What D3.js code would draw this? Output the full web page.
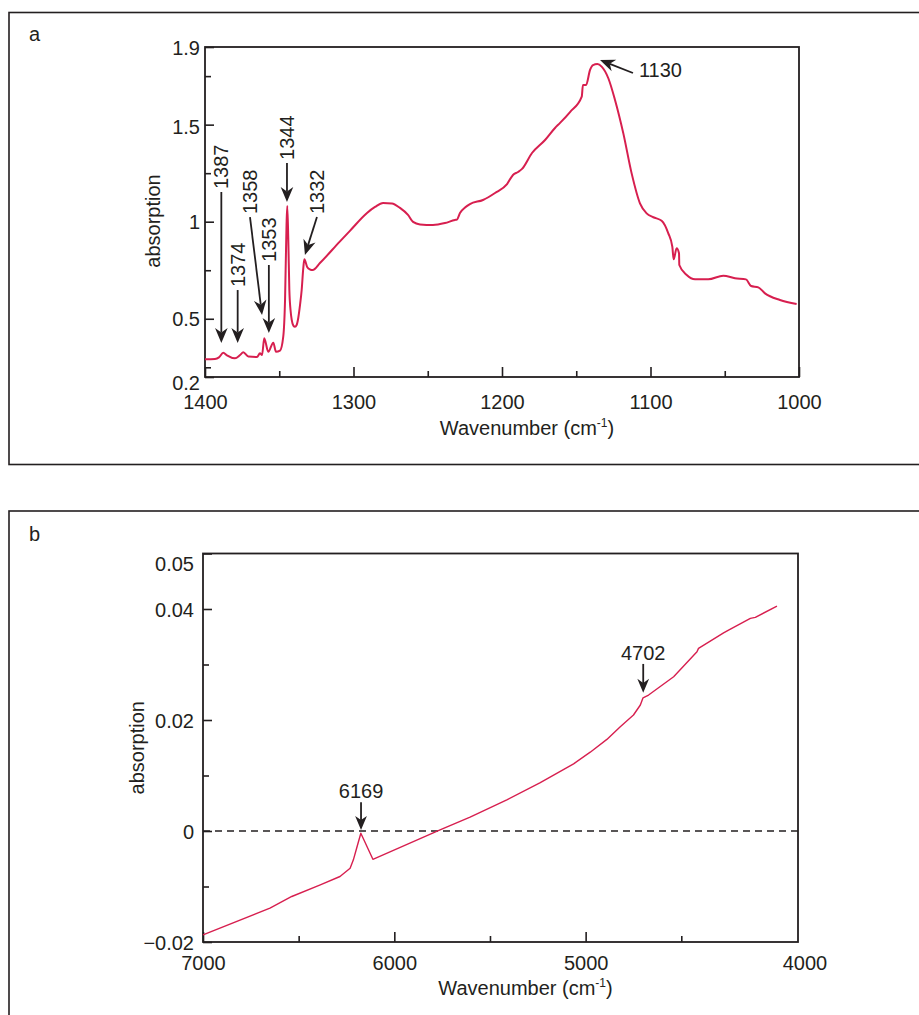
<!DOCTYPE html>
<html>
<head>
<meta charset="utf-8">
<script src="https://cdn.jsdelivr.net/npm/d3@7"></script>
<style>
  body { margin: 0; background: #fff; }
  svg text { font-family: "Liberation Sans", Arial, sans-serif; fill: #231f20; }
</style>
</head>
<body>
<svg id="chart" width="919" height="1015"></svg>
<script>
// ---- panel a: mid-IR spectrum ----
const wavenumberA = [1400, 1393.3, 1390.6, 1387.7, 1385.2, 1379.8, 1376.4, 1374.2, 1370.8, 1365.0,
  1363.0, 1361.6, 1360.1, 1357.4, 1354.0, 1352.2, 1349.5, 1347.3, 1346.1, 1345.1,
  1344.6, 1343.9, 1343.2, 1342.4, 1341.6, 1340.5, 1339.4, 1338.3, 1337.2, 1336.0,
  1334.9, 1333.8, 1333.1, 1331.1, 1329.3, 1327.5, 1322.6, 1309.1, 1302.4, 1290.9,
  1285.5, 1280.1, 1274.1, 1268.7, 1263.3, 1259.9, 1255.2, 1246.5, 1238.4, 1231.7,
  1230.3, 1228.3, 1224.9, 1221.6, 1212.8, 1204.7, 1196.6, 1192.6, 1189.2, 1186.5,
  1179.8, 1171.0, 1164.3, 1160.9, 1154.2, 1146.3, 1145.5, 1143.4, 1140.7, 1138.7,
  1135.8, 1132.9, 1128.4, 1123.9, 1118.3, 1112.7, 1107.1, 1102.6, 1098.1, 1092.5,
  1088.0, 1085.3, 1084.4, 1082.4, 1080.8, 1080.6, 1075.6, 1070.0, 1061.1, 1051.0,
  1043.1, 1035.7, 1032.3, 1027.4, 1022.9, 1012.8, 1001.6];
const absorptionA = [0.291, 0.293, 0.301, 0.325, 0.311, 0.296, 0.313, 0.327, 0.305, 0.303,
  0.322, 0.313, 0.399, 0.330, 0.377, 0.330, 0.336, 0.408, 0.597, 0.983,
  1.081, 0.906, 0.648, 0.545, 0.494, 0.465, 0.459, 0.468, 0.504, 0.571,
  0.648, 0.762, 0.806, 0.765, 0.754, 0.751, 0.787, 0.899, 0.953, 1.045,
  1.076, 1.096, 1.094, 1.071, 1.035, 0.999, 0.986, 0.983, 0.993, 1.009,
  1.011, 1.045, 1.073, 1.091, 1.112, 1.148, 1.194, 1.241, 1.256, 1.272,
  1.354, 1.421, 1.483, 1.509, 1.565, 1.644, 1.704, 1.704, 1.782, 1.807,
  1.812, 1.799, 1.739, 1.627, 1.455, 1.249, 1.095, 1.043, 1.023, 1.005,
  0.940, 0.871, 0.806, 0.863, 0.837, 0.777, 0.725, 0.703, 0.703, 0.722,
  0.709, 0.703, 0.669, 0.662, 0.631, 0.597, 0.576];
const xTicksA = [1400, 1300, 1200, 1100, 1000];
const xMinorA = [1350, 1250, 1150, 1050];
const yTicksA = [0.2, 0.5, 1, 1.5, 1.9];
const yMinorA = [0.25, 0.75, 1.25, 1.75];
// peak arrows: tail = where the label sits, tip = on the curve
const peaksA = [
  { label: "1387", tailWn: 1389, tailAbs: 1.153, tipWn: 1389, tipAbs: 0.375 },
  { label: "1374", tailWn: 1378, tailAbs: 0.648, tipWn: 1378, tipAbs: 0.375 },
  { label: "1358", tailWn: 1369.7, tailAbs: 1.024, tipWn: 1361.6, tipAbs: 0.519 },
  { label: "1353", tailWn: 1357, tailAbs: 0.777, tipWn: 1357, tipAbs: 0.427 },
  { label: "1344", tailWn: 1344.8, tailAbs: 1.303, tipWn: 1344.8, tipAbs: 1.102 },
  { label: "1332", tailWn: 1324.6, tailAbs: 1.024, tipWn: 1332.7, tipAbs: 0.829 },
  { label: "1130", tailWn: 1111.8, tailAbs: 1.766, tipWn: 1134, tipAbs: 1.833, flat: true }
];

// ---- panel b: near-IR spectrum ----
const wavenumberB = [7000, 6650, 6536, 6387, 6284, 6231, 6214, 6197, 6175, 6112,
  5761, 5604, 5412, 5237, 5063, 4976, 4889, 4819, 4750, 4714,
  4700, 4671, 4540, 4418, 4410, 4279, 4253, 4139, 4113, 4000];
const absorptionB = [-0.0187, -0.0139, -0.0118, -0.0097, -0.0082, -0.0067, -0.0052, -0.0031, -0.0004, -0.0051,
  0.0002, 0.0025, 0.0056, 0.0087, 0.0121, 0.0142, 0.0165, 0.0188, 0.0209, 0.0227,
  0.0240, 0.0245, 0.0278, 0.0323, 0.0329, 0.0357, 0.0362, 0.0383, 0.0385, 0.0405];
const xTicksB = [7000, 6000, 5000];
const xEndLabelB = "4000"; // printed at the right-hand end of the axis in the original
const xMinorB = [6500, 5500, 4500];
const yTicksB = [-0.02, 0, 0.02, 0.04, 0.05];
const yMinorB = [-0.01, 0.01, 0.03];
const peaksB = [
  { label: "6169", tailWn: 6174, tailAbs: 0.0052, tipWn: 6174, tipAbs: 0.0002 },
  { label: "4702", tailWn: 4699, tailAbs: 0.0301, tipWn: 4699, tipAbs: 0.0249 }
];

const INK = "#231f20";
const RED = "#d71f4f";
const svg = d3.select("#chart");

// outer frames (right/bottom run off the page like the original)
svg.append("rect").attr("x", 9).attr("y", 12.5).attr("width", 930).attr("height", 452)
  .attr("fill", "none").attr("stroke", INK).attr("stroke-width", 1.6);
svg.append("rect").attr("x", 9).attr("y", 511).attr("width", 930).attr("height", 520)
  .attr("fill", "none").attr("stroke", INK).attr("stroke-width", 1.6);
svg.append("text").attr("x", 29).attr("y", 41).attr("font-size", 20).text("a");
svg.append("text").attr("x", 29).attr("y", 541).attr("font-size", 20).text("b");

function arrow(g, x1, y1, x2, y2, head) {
  const ang = Math.atan2(y2 - y1, x2 - x1);
  const back = head * 0.7;
  g.append("line")
    .attr("x1", x1).attr("y1", y1)
    .attr("x2", x2 - back * Math.cos(ang)).attr("y2", y2 - back * Math.sin(ang))
    .attr("stroke", INK).attr("stroke-width", 1.8);
  g.append("path")
    .attr("d", `M0,0L${-head},${-head * 0.42}L${-back},0L${-head},${head * 0.42}Z`)
    .attr("transform", `translate(${x2},${y2}) rotate(${ang * 180 / Math.PI})`)
    .attr("fill", INK);
}

function panel(o) {
  const { x, y } = o;
  const g = svg.append("g");
  const [x0, x1] = x.range();
  const [yb, yt] = y.range();

  const styleTicks = sel => {
    sel.select(".domain").remove();
    sel.selectAll(".tick line").attr("stroke", INK).attr("stroke-width", 1.6);
    sel.selectAll(".tick text").attr("font-size", 20).attr("fill", INK)
      .style("font-family", '"Liberation Sans", Arial, sans-serif');
  };

  // x axis, ticks pointing into the plot
  g.append("g").attr("transform", `translate(0,${yb})`)
    .call(d3.axisBottom(x).tickValues(o.xTicks).tickSize(-10).tickPadding(o.xPad).tickFormat(d3.format("d")))
    .call(styleTicks);
  g.append("g").attr("transform", `translate(0,${yb})`)
    .call(d3.axisBottom(x).tickValues(o.xMinor).tickSize(-6).tickFormat(() => ""))
    .call(styleTicks);
  // y axis
  const yAx = g.append("g").attr("transform", `translate(${x0},0)`)
    .call(d3.axisLeft(y).tickValues(o.yTicks).tickSize(-9).tickPadding(o.yPad).tickFormat(o.yFormat))
    .call(styleTicks);
  g.append("g").attr("transform", `translate(${x0},0)`)
    .call(d3.axisLeft(y).tickValues(o.yMinor).tickSize(-6).tickFormat(() => ""))
    .call(styleTicks);
  if (o.yLabelShift) {
    yAx.selectAll(".tick text").attr("dy", d => (o.yLabelShift[d] || 0) + 7);
  }

  // plot box
  g.append("rect").attr("x", x0).attr("y", yt).attr("width", x1 - x0).attr("height", yb - yt)
    .attr("fill", "none").attr("stroke", INK).attr("stroke-width", 1.8);

  if (o.zeroLine) {
    g.append("line").attr("x1", x0).attr("x2", x1).attr("y1", y(0)).attr("y2", y(0))
      .attr("stroke", INK).attr("stroke-width", 1.3).attr("stroke-dasharray", "7,5");
  }

  // spectrum
  const pts = o.wn.map((w, i) => [w, o.abs[i]]);
  g.append("path").datum(pts)
    .attr("d", d3.line().x(d => x(d[0])).y(d => y(d[1])).curve(o.curve))
    .attr("fill", "none").attr("stroke", RED).attr("stroke-width", o.lineW)
    .attr("stroke-linejoin", "round");

  // axis titles
  const t = g.append("text").attr("x", (x0 + x1) / 2 + 25).attr("y", yb + o.titleDy)
    .attr("text-anchor", "middle").attr("font-size", 20).text("Wavenumber (cm");
  t.append("tspan").attr("font-size", 12).attr("dy", -8).text("-1");
  t.append("tspan").attr("dy", 8).text(")");
  g.append("text")
    .attr("transform", `translate(${x0 - o.yTitleOff},${(yt + yb) / 2 + o.yTitleDy}) rotate(-90)`)
    .attr("text-anchor", "middle").attr("dominant-baseline", "central")
    .attr("font-size", 20).text("absorption");

  // peak annotations
  o.peaks.forEach(p => {
    const tx = x(p.tailWn), ty = y(p.tailAbs);
    arrow(g, tx, ty, x(p.tipWn), y(p.tipAbs), o.head);
    if (p.flat) {
      g.append("text").attr("x", tx + 6).attr("y", ty - 3).attr("dominant-baseline", "central")
        .attr("font-size", 20).text(p.label);
    } else if (o.vertical) {
      g.append("text").attr("transform", `translate(${tx},${ty - 3}) rotate(-90)`)
        .attr("dominant-baseline", "central").attr("font-size", 20).text(p.label);
    } else {
      g.append("text").attr("x", tx).attr("y", ty - 4).attr("text-anchor", "middle")
        .attr("font-size", 20).text(p.label);
    }
  });
  return g;
}

const xA = d3.scaleLinear().domain([1400, 1000]).range([205, 799]);
const yA = d3.scaleLinear().domain([0.2, 1.9]).range([377, 47]);
panel({
  x: xA, y: yA, wn: wavenumberA, abs: absorptionA,
  xTicks: xTicksA, xMinor: xMinorA, yTicks: yTicksA, yMinor: yMinorA,
  yFormat: d3.format(""), xPad: 18, yPad: 5, yLabelShift: { 0.2: 5, 1.5: 2 },
  titleDy: 58, yTitleOff: 52, yTitleDy: 9,
  curve: d3.curveMonotoneX, lineW: 2, head: 15, vertical: true, peaks: peaksA
});

const xB = d3.scaleLinear().domain([7000, 3890]).range([203, 798]);
const yB = d3.scaleLinear().domain([-0.02, 0.05]).range([942, 553.5]);
const gB = panel({
  x: xB, y: yB, wn: wavenumberB, abs: absorptionB,
  xTicks: xTicksB, xMinor: xMinorB, yTicks: yTicksB, yMinor: yMinorB,
  yFormat: d => d === 0 ? "0" : d3.format(".2f")(d), xPad: 14, yPad: 9, yLabelShift: { 0.05: 10 },
  titleDy: 53, yTitleOff: 66, yTitleDy: 0, zeroLine: true,
  curve: d3.curveLinear, lineW: 1.4, head: 14, vertical: false, peaks: peaksB
});
gB.append("text").attr("x", xB.range()[1] + 7).attr("y", yB.range()[0] + 14).attr("dy", "0.71em")
  .attr("text-anchor", "middle").attr("font-size", 20).text(xEndLabelB);
</script>
</body>
</html>
